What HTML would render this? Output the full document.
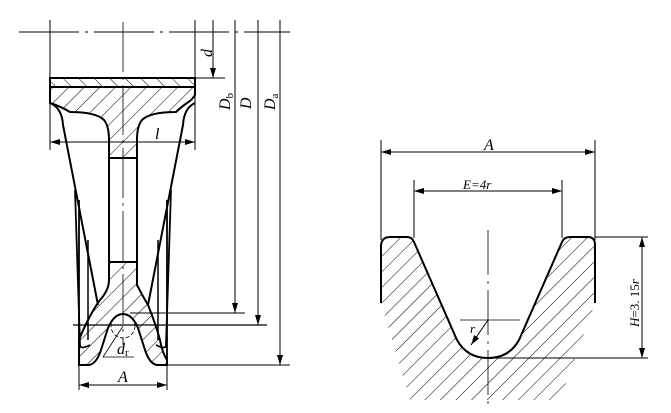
<!DOCTYPE html>
<html><head><style>html,body{margin:0;padding:0;background:#fff;}svg{display:block}</style></head>
<body>
<svg width="671" height="413" viewBox="0 0 671 413" xmlns="http://www.w3.org/2000/svg" font-family="Liberation Serif, serif" font-style="italic">
<defs>
<pattern id="h" patternUnits="userSpaceOnUse" width="11" height="11" patternTransform="rotate(45)">
<line x1="0" y1="0" x2="0" y2="11" stroke="#000" stroke-width="1"/></pattern>
<pattern id="h2" patternUnits="userSpaceOnUse" width="11" height="11" patternTransform="rotate(-45)">
<line x1="0" y1="0" x2="0" y2="11" stroke="#000" stroke-width="1"/></pattern>
<marker id="a" viewBox="0 0 10 6" refX="10" refY="3" markerWidth="10" markerHeight="6" orient="auto-start-reverse" markerUnits="userSpaceOnUse"><path d="M0,0 L10,3 L0,6 z" fill="#000"/></marker>
</defs>
<g stroke="#000" fill="none">
<!-- LEFT FIGURE -->
<line x1="19" y1="32" x2="290" y2="32" stroke-width="1" stroke-dasharray="60,6,3,6"/>
<line x1="123" y1="22" x2="123" y2="345" stroke-width="0.8" stroke-dasharray="50,5,3,5"/>
<line x1="50" y1="20" x2="50" y2="150" stroke-width="1"/>
<line x1="195" y1="20" x2="195" y2="150" stroke-width="1"/>
<line x1="196" y1="78" x2="225" y2="78" stroke-width="1"/>
<line x1="213" y1="20" x2="213" y2="78" stroke-width="1" marker-end="url(#a)"/>
<line x1="235" y1="20" x2="235" y2="313" stroke-width="1" marker-end="url(#a)"/>
<line x1="258" y1="20" x2="258" y2="325" stroke-width="1" marker-end="url(#a)"/>
<line x1="280" y1="20" x2="280" y2="365" stroke-width="1" marker-end="url(#a)"/>
<line x1="130" y1="313" x2="245" y2="313" stroke-width="1"/>
<line x1="73" y1="325" x2="267" y2="325" stroke-width="1.2"/>
<line x1="167" y1="365" x2="290" y2="365" stroke-width="1"/>
<rect x="50" y="78" width="145" height="9" fill="url(#h2)" stroke-width="2"/>
<path d="M50,87 L195,87 L195,95 Q192,100 187,103 Q180,108 176,112 Q150,112 142,120 Q137,126 137,140 L137,158 L109,158 L109,140 Q109,126 104,120 Q96,112 70,112 Q60,106 50,103 Z" fill="url(#h)" stroke-width="2"/>
<line x1="109" y1="158" x2="109" y2="262" stroke-width="2"/>
<line x1="137" y1="158" x2="137" y2="262" stroke-width="2"/>
<path d="M109,262 L137,262 L137,285 Q142,295 148,305 Q156,325 160,340 Q162,352 167,360 L167,365 L158,365 Q150,365 145,350 L138,328 Q132,314 123,314 Q114,314 108,328 L101,350 Q96,365 88,365 L79,365 L79,340 Q82,332 87,322 Q94,308 100,300 Q109,290 109,280 Z" fill="url(#h)" stroke-width="2"/>
<circle cx="123" cy="326" r="12" stroke-width="0.8" stroke-dasharray="4,2"/>
<line x1="103" y1="357" x2="134" y2="357" stroke-width="0.8"/>
<line x1="103" y1="357" x2="123" y2="326" stroke-width="0.8"/>
<path d="M50,103 Q62,108 63,125 L98,305" stroke-width="2"/>
<path d="M195,103 Q184,108 183,125 L148,305" stroke-width="2"/>
<path d="M75,190 L80,345 Q80,350 90,345" stroke-width="1.8"/>
<path d="M171,190 L166,345 Q166,350 156,345" stroke-width="1.8"/>
<line x1="79" y1="200" x2="79" y2="365" stroke-width="1.8"/>
<line x1="167" y1="200" x2="167" y2="365" stroke-width="1.8"/>
<line x1="88" y1="240" x2="88" y2="340" stroke-width="1.5"/>
<line x1="158" y1="240" x2="158" y2="340" stroke-width="1.5"/>
<line x1="50" y1="142" x2="195" y2="142" stroke-width="1" marker-start="url(#a)" marker-end="url(#a)"/>
<line x1="79" y1="365" x2="79" y2="390" stroke-width="1"/>
<line x1="167" y1="365" x2="167" y2="390" stroke-width="1"/>
<line x1="79" y1="385" x2="167" y2="385" stroke-width="1" marker-start="url(#a)" marker-end="url(#a)"/>

<!-- RIGHT FIGURE -->
<clipPath id="c"><rect x="370" y="230" width="240" height="175"/></clipPath>
<path d="M381,303 L381,245 Q382,237 390,237 L407,237 Q412,237 414,242 L457,340 Q467,358 488,358 Q509,358 519,340 L562,242 Q564,237 570,237 L588,237 Q595,237 595,245 L595,303 L560,400 L410,400 L381,303 Z" fill="url(#h)" stroke="none" clip-path="url(#c)"/>
<path d="M381,303 L381,245 Q382,237 390,237 L407,237 Q412,237 414,242 L457,340 Q467,358 488,358 Q509,358 519,340 L562,242 Q564,237 570,237 L588,237 Q595,237 595,245 L595,303" stroke-width="2"/>
<line x1="381" y1="140" x2="381" y2="240" stroke-width="1"/>
<line x1="595" y1="140" x2="595" y2="240" stroke-width="1"/>
<line x1="381" y1="152" x2="595" y2="152" stroke-width="1" marker-start="url(#a)" marker-end="url(#a)"/>
<line x1="414" y1="180" x2="414" y2="238" stroke-width="1"/>
<line x1="562" y1="180" x2="562" y2="238" stroke-width="1"/>
<line x1="414" y1="191" x2="562" y2="191" stroke-width="1" marker-start="url(#a)" marker-end="url(#a)"/>
<line x1="595" y1="237" x2="648" y2="237" stroke-width="1"/>
<line x1="488" y1="358" x2="648" y2="358" stroke-width="1"/>
<line x1="642" y1="237" x2="642" y2="358" stroke-width="1" marker-start="url(#a)" marker-end="url(#a)"/>
<line x1="488" y1="230" x2="488" y2="405" stroke-width="0.8" stroke-dasharray="45,6,3,6"/>
<line x1="460" y1="320" x2="520" y2="320" stroke-width="0.8"/>
<line x1="488" y1="320" x2="471" y2="345" stroke-width="1" marker-end="url(#a)"/>
</g>
<g fill="#000" font-size="16">
<text transform="translate(212,57) rotate(-90)">d</text>
<text transform="translate(230,110) rotate(-90)">D<tspan font-size="11" font-style="normal" dy="3">b</tspan></text>
<text transform="translate(251,109) rotate(-90)">D</text>
<text transform="translate(275,110) rotate(-90)">D<tspan font-size="11" font-style="normal" dy="3">a</tspan></text>
<text x="155" y="139">l</text>
<text x="117" y="354">d<tspan font-size="11" font-style="normal" dy="2">r</tspan></text>
<text x="118" y="382">A</text>
<text x="484" y="150">A</text>
<text x="463" y="189" font-size="13">E=4<tspan font-style="italic">r</tspan></text>
<text transform="translate(639,327) rotate(-90)" font-size="13">H<tspan font-style="normal">=3. 15</tspan>r</text>
<text x="470" y="333" font-size="13">r</text>
</g>
</svg>
</body></html>
